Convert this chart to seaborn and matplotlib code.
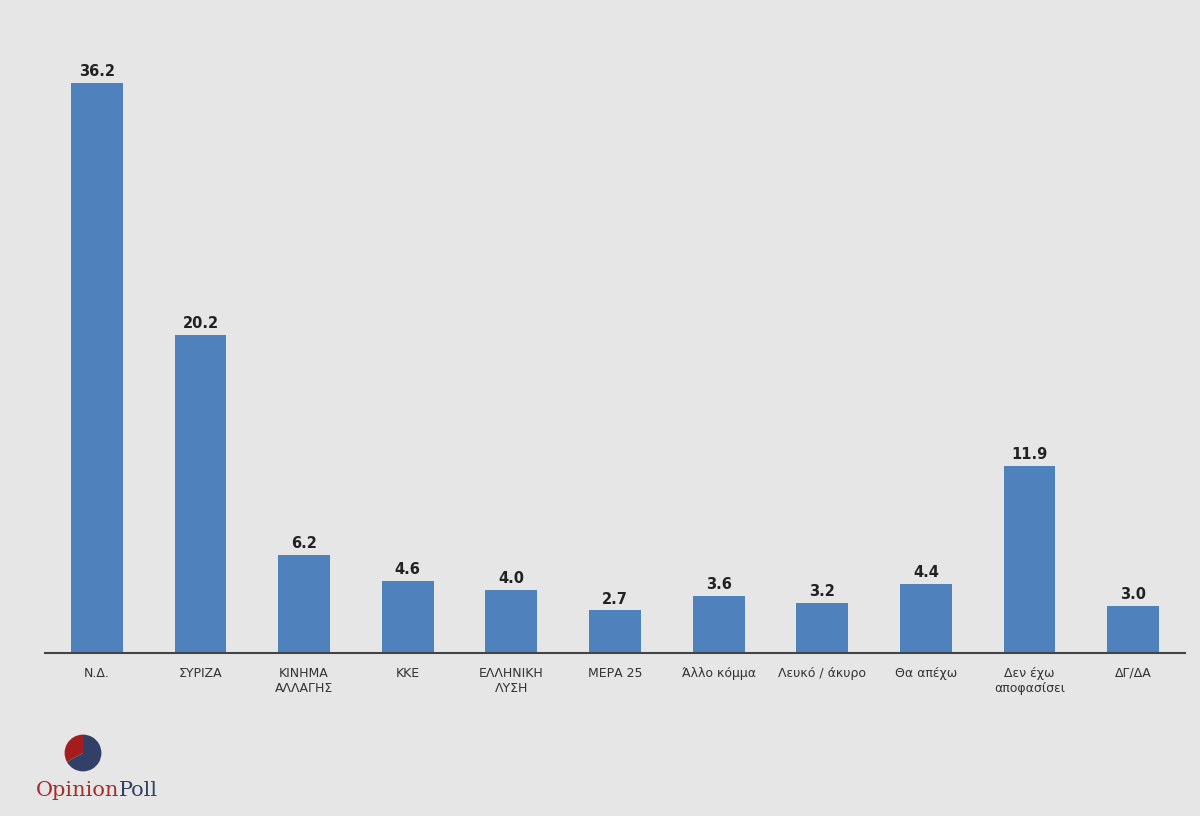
import numpy as np
import pandas as pd
import seaborn as sns
import matplotlib
matplotlib.use("Agg")
import matplotlib.pyplot as plt

parties = ["Ν.Δ.", "ΣΥΡΙΖΑ", "ΚΙΝΗΜΑ\nΑΛΛΑΓΗΣ", "ΚΚΕ", "ΕΛΛΗΝΙΚΗ\nΛΥΣΗ", "ΜΕΡΑ 25",
           "Άλλο κόμμα", "Λευκό / άκυρο", "Θα απέχω", "Δεν έχω\nαποφασίσει", "ΔΓ/ΔΑ"]
values = [36.2, 20.2, 6.2, 4.6, 4.0, 2.7, 3.6, 3.2, 4.4, 11.9, 3.0]

sns.set_style("white")
plt.rcParams['font.family'] = ['DejaVu Sans']
bg = "#e6e6e6"

df = pd.DataFrame({"party": parties, "value": values})
fig = plt.figure(figsize=(12, 8.16), dpi=100, facecolor=bg)
ax = fig.add_axes([45/1200, 163/816, 1140/1200, 630/816], facecolor=bg)
sns.barplot(data=df, x="party", y="value", color="#4f81bd", saturation=1, width=0.5,
            linewidth=0, ax=ax)
for i, v in enumerate(values):
    ax.text(i, v + 0.25, f"{v:.1f}", ha="center", va="bottom", fontsize=10.5, fontweight="bold", color="#222222")
ax.set_xlim(-0.5, 10.5)
ax.set_ylim(0, 40)
ax.set_yticks([])
ax.set_xlabel("")
ax.set_ylabel("")
ax.tick_params(axis="x", length=0, pad=10, labelsize=9, labelcolor="#333333")
for s in ["top", "right", "left"]:
    ax.spines[s].set_visible(False)
ax.spines["bottom"].set_color("#444444")
ax.spines["bottom"].set_linewidth(1.5)

# logo
lax = fig.add_axes([60/1200, (816-776)/816, 46/1200, 46/816])
lax.pie([33, 67], colors=["#a51c1c", "#323f66"], startangle=90, counterclock=True,
        wedgeprops={"linewidth": 0})
lax.set_aspect("equal")
t1 = fig.text(36/1200, (816-790)/816, "Opinion", color="#a52a2a", fontsize=15,
              family="DejaVu Serif", va="center")
ax.annotate("Poll", xy=(1, 0.5), xycoords=t1, va="center", ha="left",
            color="#323f66", fontsize=15, family="DejaVu Serif", annotation_clip=False)

fig.savefig("out.png", dpi=100, facecolor=bg)
